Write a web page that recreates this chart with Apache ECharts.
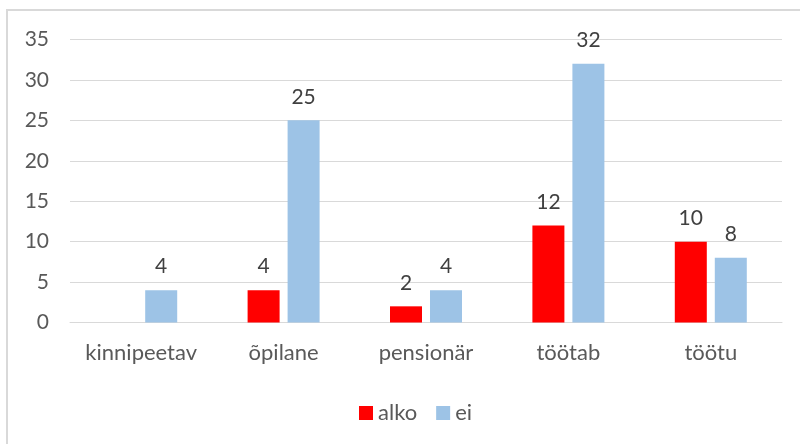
<!DOCTYPE html>
<html>
<head>
<meta charset="utf-8">
<script src="https://cdn.jsdelivr.net/npm/echarts@6/dist/echarts.min.js"></script>
<style>
  html, body { margin: 0; padding: 0; background: #fff; }
  #chart { width: 800px; height: 444px; }
</style>
</head>
<body>
<div id="chart"></div>
<script>
const categories = ['kinnipeetav', 'õpilane', 'pensionär', 'töötab', 'töötu'];
const alko = [null, 4, 2, 12, 10];
const ei = [4, 25, 4, 32, 8];
const yTicks = { min: 0, max: 35, interval: 5 };

const font = 'Lato, "Open Sans", sans-serif';
const chart = echarts.init(document.getElementById('chart'));

const barLabel = {
    show: true,
    position: 'top',
    distance: 13,
    color: '#404040',
    fontSize: 21,
    fontFamily: font
};

chart.setOption({
    animation: false,
    grid: { left: 70, right: 18, top: 39.5, bottom: 121.5 },
    graphic: [{
        type: 'rect',
        shape: { x: 7, y: 10, width: 900, height: 900 },
        style: { fill: 'none', stroke: '#d9d9d9', lineWidth: 2 }
    }],
    legend: {
        data: ['alko', 'ei'],
        top: 397,
        left: 354,
        itemWidth: 14,
        itemHeight: 14,
        itemGap: 19,
        icon: 'rect',
        textStyle: { color: '#595959', fontSize: 22, fontFamily: font }
    },
    xAxis: {
        type: 'category',
        data: categories,
        axisTick: { show: false },
        axisLine: { lineStyle: { color: '#d9d9d9', width: 1 } },
        axisLabel: { color: '#595959', fontSize: 22, fontFamily: font, margin: 19, interval: 0 }
    },
    yAxis: {
        type: 'value',
        min: yTicks.min,
        max: yTicks.max,
        interval: yTicks.interval,
        axisLine: { show: false },
        axisTick: { show: false },
        splitLine: { lineStyle: { color: '#d9d9d9', width: 1 } },
        axisLabel: { color: '#595959', fontSize: 21, fontFamily: font, margin: 21 }
    },
    series: [
        {
            name: 'alko',
            type: 'bar',
            data: alko,
            barWidth: 32,
            barGap: '25%',
            itemStyle: { color: '#ff0000' },
            label: barLabel
        },
        {
            name: 'ei',
            type: 'bar',
            data: ei,
            barWidth: 32,
            itemStyle: { color: '#9dc3e6' },
            label: barLabel
        }
    ]
});
</script>
</body>
</html>
